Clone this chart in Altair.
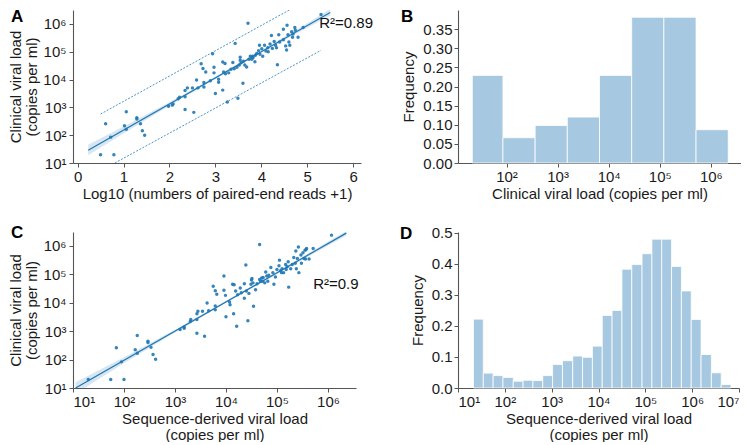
import altair as alt
import pandas as pd

FONT = "Liberation Sans"
BLUE = "#1f77b4"
BAR = "#a6c8e0"
SUP = "'10' + ['\u2070','\u00b9','\u00b2','\u00b3','\u2074','\u2075','\u2076','\u2077'][round(log(datum.value)/LN10)]"

# ---------------- Panel A : log10(reads+1) vs clinical viral load (log10) ----------------
a_reads = [0.50, 0.79, 0.61, 0.72, 1.06, 1.02, 1.06, 1.29, 1.29, 1.37, 1.41, 1.46,
           1.98, 2.06, 2.08, 2.19, 2.22, 2.34, 2.34, 2.34, 2.39, 2.50, 2.53, 2.59, 2.62,
           2.69, 2.73, 2.75, 2.75, 2.79, 2.89, 2.94, 2.97, 2.97, 3.00, 3.07, 3.07, 3.16, 3.16,
           3.21, 3.18, 3.22, 3.26, 3.29, 3.34, 3.38, 3.43, 3.41, 3.47, 3.49, 3.52, 3.54, 3.54,
           3.56, 3.60, 3.61, 3.64, 3.68, 3.71, 3.73, 3.76, 3.79, 3.81, 3.82, 3.87, 3.90, 3.86,
           3.94, 3.96, 3.97, 4.01, 4.03, 4.07, 4.10, 4.14, 4.15, 4.19, 4.22, 4.24, 4.28, 4.31,
           4.33, 4.35, 4.38, 4.40, 4.48, 4.48, 4.53, 4.55, 4.56, 4.58, 4.60, 4.62, 4.66, 4.68,
           4.69, 4.73, 4.74, 4.80, 4.91, 5.30]
a_clin = [1.30, 1.30, 2.41, 1.93, 2.84, 2.34, 2.21, 2.63, 2.58, 2.41, 2.16, 2.00,
          3.04, 3.08, 3.12, 3.31, 3.36, 2.92, 3.38, 3.61, 3.70, 3.70, 2.82, 3.98, 3.70,
          4.57, 4.40, 3.89, 3.73, 4.27, 3.96, 4.93, 4.44, 4.24, 3.50, 4.01, 3.90, 4.63, 3.62,
          4.58, 4.27, 4.21, 3.19, 4.24, 4.37, 4.61, 5.30, 4.39, 4.44, 3.33, 4.52, 4.80, 4.69,
          4.60, 3.87, 4.66, 4.52, 4.45, 6.02, 4.73, 4.84, 4.73, 4.84, 4.78, 4.87, 4.94, 4.64,
          5.04, 5.23, 4.91, 5.11, 4.84, 5.23, 5.03, 5.14, 5.00, 5.28, 5.58, 5.12, 5.37, 5.23,
          5.14, 4.53, 5.61, 5.35, 5.43, 5.81, 5.21, 5.06, 5.95, 5.61, 5.35, 5.23, 5.72, 5.52,
          5.64, 5.87, 5.77, 5.52, 5.87, 6.34]
a_line_x = [0.23, 5.50]
a_line_y = [1.46, 6.41]
a_band_x = [0.23, 1.0, 2.0, 3.0, 4.0, 5.0, 5.5]
a_band_lo = [1.28, 2.06, 3.06, 4.02, 4.95, 5.86, 6.30]
a_band_hi = [1.66, 2.31, 3.18, 4.10, 5.05, 6.02, 6.54]
a_pi_up_x = [0.50, 4.61]
a_pi_up_y = [2.76, 6.50]
a_pi_lo_x = [0.81, 5.30]
a_pi_lo_y = [1.00, 5.05]

# ---------------- Panel B : histogram of clinical viral load ----------------
b_edges = [1.33, 1.93, 2.56, 3.19, 3.82, 4.45, 5.08, 5.71, 6.34]
b_freq = [0.229, 0.066, 0.098, 0.120, 0.229, 0.381, 0.381, 0.087]

# ---------------- Panel C : sequence-derived vs clinical viral load (log10) ----------------
c_seq = [1.30, 1.74, 2.00, 1.85, 1.95, 2.22, 2.26, 2.26, 2.47, 2.47, 2.53, 2.57, 2.62,
         3.10, 3.18, 3.18, 3.30, 3.31, 3.43, 3.43, 3.43, 3.45, 3.54, 3.58, 3.63, 3.66,
         3.75, 3.79, 3.82, 3.79, 3.79,
         3.96, 3.96, 4.00, 3.99, 4.07, 4.08, 4.13, 4.16, 4.15, 4.19, 4.21, 4.23, 4.28, 4.30,
         4.36, 4.36, 4.39, 4.40, 4.43, 4.45, 4.49, 4.50, 4.53, 4.54, 4.51, 4.58, 4.61, 4.66,
         4.66, 4.68, 4.70, 4.72, 4.73, 4.76, 4.78, 4.80, 4.82, 4.84, 4.88, 4.92, 4.94, 4.97,
         5.00, 5.04, 5.05, 5.07, 5.09, 5.10, 5.13, 5.17, 5.18, 5.20, 5.22, 5.23, 5.27, 5.30,
         5.33, 5.36, 5.37, 5.38, 5.40, 5.42, 5.43, 5.47, 5.48, 5.51, 5.53, 5.55, 5.56, 5.57,
         5.58, 5.63, 5.71, 6.07]
c_clin = [1.30, 1.30, 1.30, 2.42, 1.92, 2.35, 2.22, 2.85, 2.65, 2.60, 2.43, 2.18, 2.01,
          3.06, 3.10, 3.15, 3.34, 3.41, 2.93, 3.41, 3.61, 3.70, 3.70, 2.82, 3.99, 3.72,
          4.58, 4.42, 4.30, 3.89, 3.75,
          4.94, 4.44, 3.51, 4.26, 4.03, 3.93, 4.65, 4.63, 3.61, 4.41, 3.17, 4.28, 4.52, 4.35,
          4.67, 4.16, 5.33, 4.41, 3.37, 4.33, 4.65, 4.80, 4.70, 3.88, 4.85, 4.46, 4.67, 6.05,
          4.82, 4.76, 4.87, 4.76, 4.89, 4.70, 5.08, 4.94, 4.76, 4.97, 5.24, 5.06, 4.65, 4.91,
          5.17, 5.30, 5.50, 5.13, 5.06, 5.20, 5.06, 5.35, 5.17, 5.27, 5.44, 4.55, 5.20, 5.35,
          5.59, 5.39, 5.82, 5.20, 5.56, 5.96, 5.06, 5.68, 5.39, 5.76, 5.56, 5.85, 5.54, 5.87,
          5.91, 5.54, 5.91, 6.38]
c_line_x = [1.05, 6.36]
c_line_y = [1.00, 6.45]
c_band_x = [1.05, 2.0, 3.0, 4.0, 5.0, 6.36]
c_band_lo = [0.80, 1.87, 2.95, 4.00, 5.01, 6.37]
c_band_hi = [1.20, 2.08, 3.05, 4.06, 5.09, 6.53]

# ---------------- Panel D : histogram of sequence-derived viral load ----------------
d_edges = [1.33, 1.54, 1.75, 1.96, 2.18, 2.39, 2.60, 2.81, 3.02, 3.23, 3.45, 3.66, 3.87,
           4.08, 4.29, 4.50, 4.71, 4.93, 5.14, 5.35, 5.56, 5.77, 5.98, 6.19, 6.41, 6.62, 6.83]
d_freq = [0.222, 0.048, 0.040, 0.034, 0.022, 0.025, 0.024, 0.040, 0.076, 0.088, 0.103,
          0.099, 0.135, 0.234, 0.250, 0.383, 0.398, 0.433, 0.480, 0.480, 0.392, 0.313,
          0.221, 0.108, 0.049, 0.011]

LOGTICKS = [10, 100, 1000, 10000, 100000, 1000000]


def pw(vals):
    return [10 ** v for v in vals]


def letter(t, dx, dy):
    return alt.Chart(pd.DataFrame({"t": [t]})).mark_text(
        font=FONT, fontSize=17, fontWeight="bold", align="left", baseline="alphabetic",
        color="black").encode(text="t:N", x=alt.value(dx), y=alt.value(dy))


# ---- A ----
xA = alt.X("x:Q", scale=alt.Scale(domain=[-0.1, 6.17], nice=False, zero=False),
           axis=alt.Axis(values=[0, 1, 2, 3, 4, 5, 6], format="d",
                         title="Log10 (numbers of paired-end reads +1)"))
yA = alt.Y("y:Q", scale=alt.Scale(type="log", domain=[10, 10 ** 6.5], nice=False),
           axis=alt.Axis(values=LOGTICKS, labelExpr=SUP,
                         title=["Clinical viral load", "(copies per ml)"]))
dA_pts = pd.DataFrame({"x": a_reads, "y": pw(a_clin)})
dA_line = pd.DataFrame({"x": a_line_x, "y": pw(a_line_y)})
dA_band = pd.DataFrame({"x": a_band_x, "y": pw(a_band_lo), "y2": pw(a_band_hi)})
dA_pi = pd.DataFrame({"x": a_pi_up_x + a_pi_lo_x, "y": pw(a_pi_up_y + a_pi_lo_y),
                      "g": ["up", "up", "lo", "lo"]})
dA_txt = pd.DataFrame({"x": [5.26], "y": [10 ** 5.87], "t": ["R\u00b2=0.89"]})

A = alt.layer(
    alt.Chart(dA_band).mark_area(color=BLUE, opacity=0.18, clip=True).encode(x=xA, y=yA, y2="y2:Q"),
    alt.Chart(dA_pi).mark_line(color=BLUE, strokeWidth=0.8, strokeDash=[2, 1.5], clip=True).encode(
        x=xA, y=yA, detail="g:N"),
    alt.Chart(dA_line).mark_line(color=BLUE, strokeWidth=1.2, clip=True).encode(x=xA, y=yA),
    alt.Chart(dA_pts).mark_circle(color=BLUE, size=12, opacity=0.9).encode(x=xA, y=yA),
    alt.Chart(dA_txt).mark_text(font=FONT, fontSize=15, align="left", baseline="alphabetic",
                                color="#111").encode(x=xA, y=yA, text="t:N"),
    letter("A", -62, 12),
).properties(width=288, height=153)

# ---- B ----
xB = alt.X("x:Q", scale=alt.Scale(type="log", domain=[10 ** 1.05, 10 ** 6.59], nice=False),
           axis=alt.Axis(values=LOGTICKS[1:], labelExpr=SUP,
                         title="Clinical viral load (copies per ml)"))
yB = alt.Y("y:Q", scale=alt.Scale(domain=[0, 0.4], nice=False),
           axis=alt.Axis(values=[0, 0.05, 0.1, 0.15, 0.2, 0.25, 0.3, 0.35], format=".2f",
                         title="Frequency", labelPadding=2, titlePadding=6))
dB = pd.DataFrame({"x": pw(b_edges[:-1]), "x2": pw(b_edges[1:]), "y": b_freq})
B = alt.layer(
    alt.Chart(dB).mark_bar(color=BAR, stroke="white", strokeWidth=0.8).encode(
        x=xB, x2="x2:Q", y=yB, y2=alt.datum(0)),
    letter("B", -57, 12),
).properties(width=283, height=153)

# ---- C ----
xC = alt.X("x:Q", scale=alt.Scale(type="log", domain=[10, 10 ** 6.55], nice=False),
           axis=alt.Axis(values=LOGTICKS, labelExpr=SUP,
                         title=["Sequence-derived viral load", "(copies per ml)"]))
yC = alt.Y("y:Q", scale=alt.Scale(type="log", domain=[10, 10 ** 6.49], nice=False),
           axis=alt.Axis(values=LOGTICKS, labelExpr=SUP,
                         title=["Clinical viral load", "(copies per ml)"]))
dC_pts = pd.DataFrame({"x": pw(c_seq), "y": pw(c_clin)})
dC_line = pd.DataFrame({"x": pw(c_line_x), "y": pw(c_line_y)})
dC_band = pd.DataFrame({"x": pw(c_band_x), "y": pw(c_band_lo), "y2": pw(c_band_hi)})
dC_txt = pd.DataFrame({"x": [10 ** 5.71], "y": [10 ** 4.47], "t": ["R\u00b2=0.9"]})
C = alt.layer(
    alt.Chart(dC_band).mark_area(color=BLUE, opacity=0.18, clip=True).encode(x=xC, y=yC, y2="y2:Q"),
    alt.Chart(dC_line).mark_line(color=BLUE, strokeWidth=1.2, clip=True).encode(x=xC, y=yC),
    alt.Chart(dC_pts).mark_circle(color=BLUE, size=12, opacity=0.9).encode(x=xC, y=yC),
    alt.Chart(dC_txt).mark_text(font=FONT, fontSize=15, align="left", baseline="alphabetic",
                                color="#111").encode(x=xC, y=yC, text="t:N"),
    letter("C", -62, 6),
).properties(width=283, height=156)

# ---- D ----
xD = alt.X("x:Q", scale=alt.Scale(type="log", domain=[10, 10 ** 7], nice=False),
           axis=alt.Axis(values=LOGTICKS + [10000000], labelExpr=SUP,
                         title=["Sequence-derived viral load", "(copies per ml)"]))
yD = alt.Y("y:Q", scale=alt.Scale(domain=[0, 0.503], nice=False),
           axis=alt.Axis(values=[0, 0.1, 0.2, 0.3, 0.4, 0.5], format=".1f",
                         title="Frequency", labelPadding=2, titlePadding=6))
dD = pd.DataFrame({"x": pw(d_edges[:-1]), "x2": pw(d_edges[1:]), "y": d_freq})
D = alt.layer(
    alt.Chart(dD).mark_bar(color=BAR, stroke="white", strokeWidth=0.8).encode(
        x=xD, x2="x2:Q", y=yD, y2=alt.datum(0)),
    letter("D", -58, 7),
).properties(width=281, height=156)

chart = alt.concat(A, B, C, D, columns=2, bounds="flush",
                   spacing={"row": 69, "column": 97}).properties(
    padding={"left": 0, "top": 0, "right": 0, "bottom": 0}
).configure_view(stroke=None).configure_axis(
    labelFont=FONT, titleFont=FONT, labelFontSize=15, titleFontSize=15,
    titleFontWeight="normal", labelColor="#1a1a1a", titleColor="#1a1a1a",
    domainColor="#555555", tickColor="#555555", domainWidth=1.1, tickWidth=1,
    tickSize=4, labelPadding=2, titlePadding=2, grid=False, titleLineHeight=16
).configure_axisY(labelPadding=3, titlePadding=3)

chart.save("out.html", embed_options={"renderer": "svg", "actions": False})
